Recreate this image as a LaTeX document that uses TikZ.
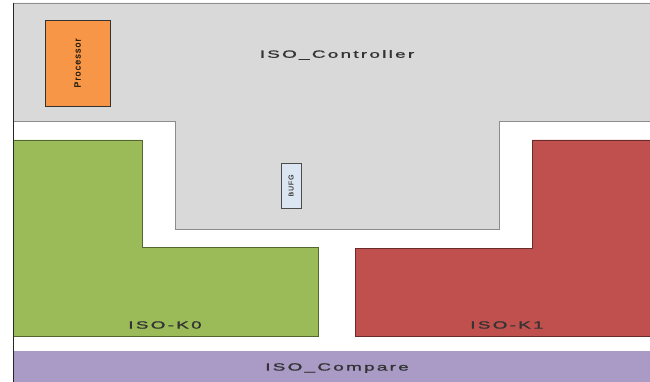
\documentclass[tikz,border=0pt]{standalone}
\usepackage{fontspec}
\usepackage{graphicx}
\newfontfamily\blockfont[LetterSpace=12,FakeBold=1.2]{Liberation Sans}
\newfontfamily\cellfont[LetterSpace=12,FakeBold=1.5]{Liberation Sans}
\newcommand{\wide}[1]{\scalebox{1.8}[1]{#1}}
\definecolor{ctrlgray}{HTML}{D9D9D9}
\definecolor{procorange}{HTML}{F79646}
\definecolor{kzgreen}{HTML}{9BBB59}
\definecolor{kored}{HTML}{C0504D}
\definecolor{cmppurple}{HTML}{A99BC6}
\definecolor{bufblue}{HTML}{DCE6F2}

\begin{document}
\begin{tikzpicture}[
  x=1pt, y=-1pt,
  region/.style={line width=0.8pt, line join=miter},
  cell/.style={draw=black!80, line width=0.8pt, inner sep=0pt},
  lbl/.style={font=\blockfont\fontsize{10.5}{12}\selectfont, text=black!80},
  celltxt/.style={font=\cellfont\fontsize{9}{10}\selectfont, text=black!75!brown, rotate=90},
]
\useasboundingbox (0,0) rectangle (650,382);

% controller
\filldraw[region, fill=ctrlgray, draw=black!45]
  (13,3) -- (650,3) -- (650,121) -- (499,121) -- (499,229)
  -- (175,229) -- (175,121) -- (13,121) -- cycle;
\node[lbl] (ctrl) at (337,55) {\wide{ISO\_Controller}};

% processor and clock buffer
\node[cell, fill=procorange, minimum width=65pt, minimum height=86pt] (proc) at (77.5,63) {};
\node[celltxt] (proctxt) at (proc.center) {Processor};
\node[cell, fill=bufblue, draw=black!70, minimum width=20pt, minimum height=45pt] (bufg) at (291,185.5) {};
\node[celltxt, font=\cellfont\fontsize{7}{8}\selectfont, text=black!70] (buftxt) at (bufg.center) {BUFG};

% key blocks
\filldraw[region, fill=kzgreen, draw=kzgreen!55!black]
  (13,140) -- (142,140) -- (142,247) -- (318,247) -- (318,336) -- (13,336) -- cycle;
\node[lbl] (kzero) at (165,325) {\wide{ISO-K0}};

\filldraw[region, fill=kored, draw=kored!55!black]
  (532,140) -- (650,140) -- (650,336) -- (355,336) -- (355,248) -- (532,248) -- cycle;
\node[lbl] (kone) at (507,325) {\wide{ISO-K1}};

% compare
\fill[cmppurple] (13,351) rectangle (650,382);
\node[lbl] (cmp) at (337,368) {\wide{ISO\_Compare}};

% left edge
\draw[black!85, line width=0.8pt] (13,3) -- (13,382);
\end{tikzpicture}
\end{document}
